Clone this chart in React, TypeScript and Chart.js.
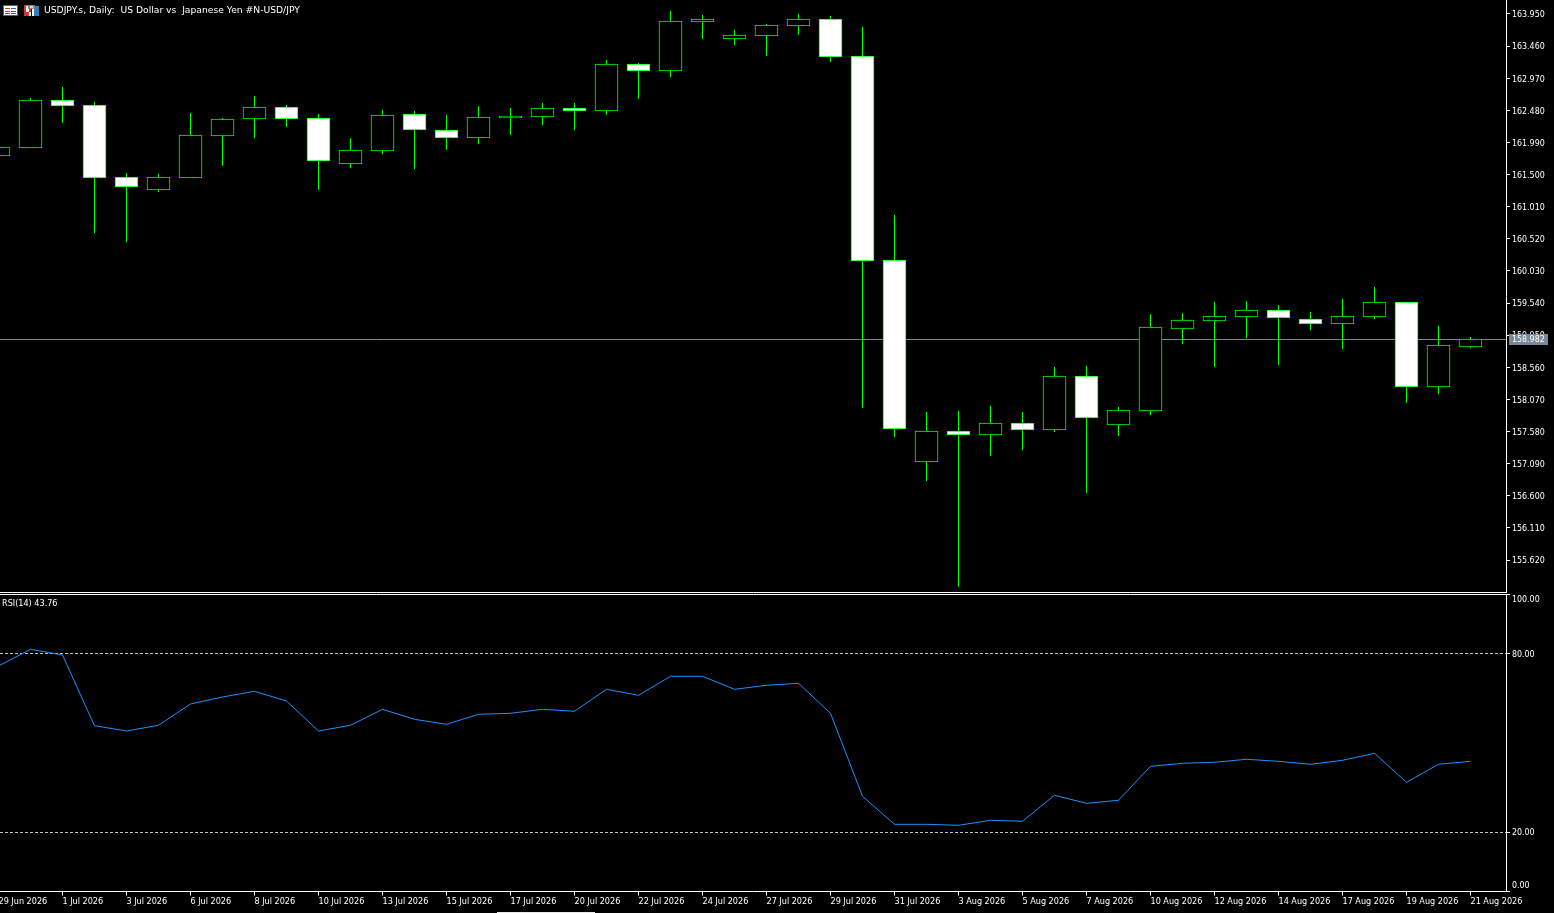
import React, { useEffect, useRef } from "react";
import { Chart, registerables } from "chart.js";

Chart.register(...registerables);

const dates = [
  "29 Jun 2026", "30 Jun 2026", "1 Jul 2026", "2 Jul 2026", "3 Jul 2026", "5 Jul 2026", "6 Jul 2026", "7 Jul 2026",
  "8 Jul 2026", "9 Jul 2026", "10 Jul 2026", "12 Jul 2026", "13 Jul 2026", "14 Jul 2026", "15 Jul 2026", "16 Jul 2026",
  "17 Jul 2026", "19 Jul 2026", "20 Jul 2026", "21 Jul 2026", "22 Jul 2026", "23 Jul 2026", "24 Jul 2026", "26 Jul 2026",
  "27 Jul 2026", "28 Jul 2026", "29 Jul 2026", "30 Jul 2026", "31 Jul 2026", "2 Aug 2026", "3 Aug 2026", "4 Aug 2026",
  "5 Aug 2026", "6 Aug 2026", "7 Aug 2026", "9 Aug 2026", "10 Aug 2026", "11 Aug 2026", "12 Aug 2026", "13 Aug 2026",
  "14 Aug 2026", "16 Aug 2026", "17 Aug 2026", "18 Aug 2026", "19 Aug 2026", "20 Aug 2026", "21 Aug 2026",
];

const opens = [
  161.784, 161.906, 162.638, 162.562, 161.463, 161.265, 161.448, 162.089, 162.348, 162.531,
  162.363, 161.662, 161.86, 162.424, 162.18, 162.058, 162.363, 162.379, 162.516, 162.47,
  163.187, 163.08, 163.828, 163.569, 163.614, 163.767, 163.874, 163.309, 160.197, 157.115,
  157.588, 157.527, 157.71, 157.604, 158.427, 157.68, 157.893, 159.144, 159.266, 159.327,
  159.434, 159.297, 159.221, 159.327, 159.556, 158.26, 158.87,
];
const highs = [
  161.921, 162.669, 162.836, 162.607, 161.524, 161.509, 162.44, 162.363, 162.699, 162.562,
  162.424, 162.058, 162.485, 162.47, 162.409, 162.546, 162.516, 162.592, 162.592, 163.248,
  163.202, 163.996, 163.935, 163.706, 163.797, 163.95, 163.919, 163.752, 160.884, 157.878,
  157.893, 157.97, 157.878, 158.565, 158.58, 157.954, 159.373, 159.388, 159.556, 159.571,
  159.511, 159.404, 159.602, 159.785, 159.556, 159.19, 159.022,
];
const lows = [
  161.784, 161.906, 162.287, 160.609, 160.472, 161.234, 161.448, 161.631, 162.058, 162.226,
  161.265, 161.601, 161.814, 161.585, 161.875, 161.967, 162.104, 162.257, 162.18, 162.409,
  162.653, 162.989, 163.569, 163.477, 163.309, 163.63, 163.218, 157.939, 157.497, 156.826,
  155.208, 157.207, 157.298, 157.573, 156.642, 157.512, 157.832, 158.915, 158.565, 159.007,
  158.595, 159.129, 158.839, 159.297, 158.015, 158.153, 158.855,
];
const closes = [
  161.921, 162.638, 162.546, 161.448, 161.311, 161.463, 162.104, 162.348, 162.531, 162.348,
  161.707, 161.875, 162.409, 162.18, 162.058, 162.379, 162.394, 162.516, 162.47, 163.187,
  163.08, 163.843, 163.874, 163.63, 163.782, 163.874, 163.294, 160.182, 157.619, 157.588,
  157.527, 157.71, 157.604, 158.427, 157.787, 157.909, 159.175, 159.282, 159.343, 159.434,
  159.312, 159.221, 159.343, 159.556, 158.26, 158.9, 158.982,
];
const rsiValues = [
  75.8, 81.41, 79.5, 55.73, 53.95, 55.87, 63.03, 65.38, 67.29, 64.03,
  53.95, 55.87, 61.24, 57.88, 56.2, 59.56, 59.9, 61.24, 60.57, 67.97,
  65.95, 72.34, 72.34, 67.97, 69.31, 69.98, 59.9, 32.0, 22.59, 22.59,
  22.25, 23.93, 23.6, 32.34, 29.65, 30.66, 42.08, 43.09, 43.43, 44.44,
  43.76, 42.76, 44.1, 46.45, 36.71, 42.76, 43.76,
];
const priceTicks = [
  163.95, 163.46, 162.97, 162.48, 161.99, 161.5, 161.01, 160.52, 160.03,
  159.54, 159.05, 158.56, 158.07, 157.58, 157.09, 156.6, 156.11, 155.62,
];
const rsiTicks = [0, 20, 80, 100];
const rsiLevels = [20, 80];
const currentPrice = 158.982;
const titleText = "USDJPY.s, Daily:  US Dollar vs  Japanese Yen #N-USD/JPY";
const rsiText = "RSI(14) 43.76";

const FONT = "'DejaVu Sans Condensed', 'DejaVu Sans', sans-serif";
const TITLE_FONT = "'DejaVu Sans', sans-serif";
const X_MIN = 0.046875;
const X_MAX = 47.109375;
const GREEN = "#00ff00";

const fitTo = (w: number | null, h: number | null) => (s: any) => {
  if (w !== null) s.width = w;
  if (h !== null) s.height = h;
  s.paddingLeft = s.paddingRight = s.paddingTop = s.paddingBottom = 0;
};

const nudgeLabels = (chart: any) => {
  chart.scales.y.getLabelItems(chart.chartArea).forEach((item: any) => {
    const [tx, ty] = item.options.translation;
    if (item.label === "100.00") item.options.translation = [tx, 6];
    else if (item.label === "0.00") item.options.translation = [tx, 292];
    else item.options.translation = [tx, ty + 1];
  });
};

const snapBars = {
  id: "snapBars",
  afterDatasetsUpdate(chart: any) {
    chart.data.datasets.forEach((_: any, i: number) => {
      chart.getDatasetMeta(i).data.forEach((el: any) => {
        const t = Math.round(el.y - 0.2);
        const b = Math.round(el.base - 0.2);
        el.y = t;
        el.base = b;
        el.height = b - t;
      });
    });
  },
};

const priceLine = {
  id: "priceLine",
  beforeDatasetsDraw(chart: any) {
    const { ctx, chartArea, scales } = chart;
    const y = Math.floor(scales.y.getPixelForValue(currentPrice)) + 0.5;
    ctx.save();
    ctx.strokeStyle = "#778899";
    ctx.lineWidth = 1;
    ctx.beginPath();
    ctx.moveTo(chartArea.left, y);
    ctx.lineTo(chartArea.right, y);
    ctx.stroke();
    ctx.restore();
  },
};

function drawIcons(ctx: CanvasRenderingContext2D) {
  ctx.fillStyle = "#ffffff";
  ctx.fillRect(3, 5, 15, 11);
  ctx.fillStyle = "#d9362b";
  ctx.fillRect(3, 5, 8, 1);
  ctx.fillRect(3, 15, 8, 1);
  ctx.fillRect(3, 5, 1, 11);
  [8, 11, 13].forEach((y) => ctx.fillRect(5, y, 5, 1));
  ctx.fillStyle = "#1f6fb5";
  ctx.fillRect(11, 5, 7, 1);
  ctx.fillRect(11, 15, 7, 1);
  ctx.fillRect(17, 5, 1, 11);
  [8, 11, 13].forEach((y) => ctx.fillRect(11, y, 5, 1));

  ctx.fillStyle = "#d9362b";
  ctx.fillRect(24, 5, 7, 11);
  ctx.fillStyle = "#ffffff";
  ctx.fillRect(26, 6, 3, 6);
  ctx.fillRect(29, 12, 2, 4);
  ctx.fillStyle = "#2f7fc4";
  ctx.fillRect(32, 6, 7, 10);
  ctx.fillStyle = "#ffffff";
  ctx.fillRect(32, 9, 2, 7);
  ctx.fillStyle = "#8a8a8a";
  ctx.fillRect(28, 5, 7, 4);
  ctx.fillStyle = "#d8d8d8";
  ctx.fillRect(30, 6, 3, 2);
}

const topOverlay = {
  id: "topOverlay",
  beforeDraw: nudgeLabels,
  afterDraw(chart: any) {
    const { ctx, scales } = chart;
    const y = Math.floor(scales.y.getPixelForValue(currentPrice));
    ctx.save();
    ctx.fillStyle = "#778899";
    ctx.fillRect(1509, y - 5, 39, 11);
    ctx.fillStyle = "#ffffff";
    ctx.font = `8.8px ${FONT}`;
    ctx.textBaseline = "middle";
    ctx.textAlign = "left";
    ctx.fillText(currentPrice.toFixed(3), 1512, y + 1);
    ctx.font = `9.2px ${TITLE_FONT}`;
    ctx.fillText(titleText, 44, 10.5);
    drawIcons(ctx);
    ctx.restore();
  },
};

const bottomOverlay = {
  id: "bottomOverlay",
  beforeDraw: nudgeLabels,
  afterDraw(chart: any) {
    const { ctx } = chart;
    ctx.save();
    ctx.fillStyle = "#ffffff";
    ctx.font = `9px ${FONT}`;
    ctx.textBaseline = "middle";
    ctx.textAlign = "left";
    ctx.fillText(rsiText, 2, 10);
    ctx.fillStyle = "#e8e8e8";
    ctx.fillRect(497, 318, 98, 1);
    ctx.restore();
  },
};

export default function App() {
  const topRef = useRef<HTMLCanvasElement>(null);
  const botRef = useRef<HTMLCanvasElement>(null);

  useEffect(() => {
    document.body.style.margin = "0";
    document.body.style.background = "#000";

    const wicks = dates.map((_, i) => ({ x: i, y: [lows[i], highs[i]] }));
    const bodies = dates.map((_, i) => ({ x: i, y: [opens[i], closes[i]] }));

    const top = new Chart(topRef.current as HTMLCanvasElement, {
      type: "bar",
      data: {
        datasets: [
          {
            label: "Bodies",
            data: bodies as any,
            order: 1,
            grouped: false,
            barThickness: 23,
            borderWidth: 1,
            borderSkipped: false,
            borderColor: GREEN,
            backgroundColor: dates.map((_, i) => (closes[i] < opens[i] ? "#ffffff" : "#000000")),
          } as any,
          {
            label: "Wicks",
            data: wicks as any,
            order: 2,
            grouped: false,
            barThickness: 1,
            borderWidth: 0,
            inflateAmount: 0,
            backgroundColor: GREEN,
          } as any,
        ],
      },
      options: {
        animation: false,
        responsive: false,
        devicePixelRatio: 1,
        layout: { padding: 0 },
        plugins: { legend: { display: false }, tooltip: { enabled: false } },
        events: [],
        scales: {
          x: {
            type: "linear",
            offset: false,
            min: X_MIN,
            max: X_MAX,
            grid: { display: false, offset: false },
            ticks: { display: false },
            border: { color: "#ffffff", width: 1 },
            afterFit: fitTo(null, 1),
          },
          y: {
            type: "linear",
            position: "right",
            min: 155.1323,
            max: 164.16357,
            afterBuildTicks: (s: any) => {
              s.ticks = priceTicks.map((value) => ({ value }));
            },
            grid: { drawOnChartArea: false, drawTicks: true, tickLength: 4, tickColor: "#ffffff" },
            border: { color: "#ffffff", width: 1 },
            ticks: {
              color: "#ffffff",
              padding: 2,
              autoSkip: false,
              font: { family: FONT, size: 8.8 },
              callback: (v: any) => Number(v).toFixed(3),
            },
            afterFit: fitTo(48, null),
          },
        },
      } as any,
      plugins: [snapBars, priceLine, topOverlay],
    });

    const bottom = new Chart(botRef.current as HTMLCanvasElement, {
      type: "line",
      data: {
        datasets: [
          {
            label: "RSI(14)",
            data: rsiValues.map((y, x) => ({ x, y })),
            borderColor: "#1e90ff",
            borderWidth: 1,
            pointRadius: 0,
            tension: 0,
          },
        ],
      },
      options: {
        animation: false,
        responsive: false,
        devicePixelRatio: 1,
        layout: { padding: 0 },
        plugins: { legend: { display: false }, tooltip: { enabled: false } },
        events: [],
        scales: {
          x: {
            type: "linear",
            position: "bottom",
            min: X_MIN,
            max: X_MAX,
            afterBuildTicks: (s: any) => {
              s.ticks = dates.map((_, value) => ({ value })).filter((t) => t.value % 2 === 0);
            },
            grid: { drawOnChartArea: false, drawTicks: true, tickLength: 4, tickColor: "#ffffff" },
            border: { color: "#ffffff", width: 1 },
            ticks: {
              color: "#ffffff",
              align: "start",
              padding: 1,
              autoSkip: false,
              maxRotation: 0,
              minRotation: 0,
              font: { family: FONT, size: 9 },
              callback: (v: any) => dates[v],
            },
            afterFit: fitTo(null, 21.5),
          },
          x2: {
            type: "linear",
            position: "top",
            min: X_MIN,
            max: X_MAX,
            grid: { display: false },
            ticks: { display: false },
            border: { color: "#ffffff", width: 1 },
            afterFit: fitTo(null, 0),
          },
          y: {
            type: "linear",
            position: "right",
            min: 0,
            max: 100,
            afterBuildTicks: (s: any) => {
              s.ticks = rsiTicks.map((value) => ({ value }));
            },
            grid: {
              drawTicks: true,
              tickLength: 4,
              tickColor: "#ffffff",
              color: (c: any) => (c.tick && rsiLevels.includes(c.tick.value) ? "#c0c0c0" : "transparent"),
            },
            border: { color: "#ffffff", width: 1, dash: [3, 2] },
            ticks: {
              color: "#ffffff",
              padding: 2,
              autoSkip: false,
              font: { family: FONT, size: 8.8 },
              callback: (v: any) => Number(v).toFixed(2),
            },
            afterFit: fitTo(48, null),
          },
        },
      } as any,
      plugins: [bottomOverlay],
    });

    return () => {
      top.destroy();
      bottom.destroy();
    };
  }, []);

  return (
    <div style={{ position: "absolute", left: 0, top: 0, width: 1554, height: 913, background: "#000", overflow: "hidden" }}>
      <canvas ref={topRef} width={1554} height={593} style={{ position: "absolute", left: 0, top: 0 }} />
      <canvas ref={botRef} width={1554} height={319} style={{ position: "absolute", left: 0, top: 594 }} />
    </div>
  );
}
